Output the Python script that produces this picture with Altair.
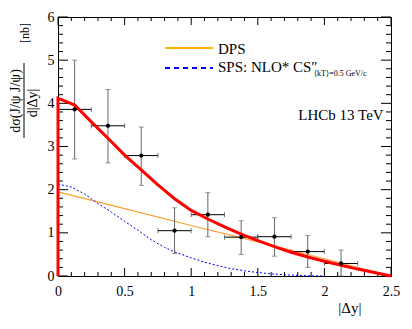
import altair as alt
import pandas as pd

# ---- data ----
x_bins = [0.125, 0.375, 0.625, 0.875, 1.125, 1.375, 1.625, 1.875, 2.125]
x_half = [0.125, 0.125, 0.125, 0.125, 0.125, 0.125, 0.125, 0.125, 0.125]
y_data = [3.86, 3.48, 2.79, 1.05, 1.42, 0.90, 0.91, 0.565, 0.29]
y_up = [5.00, 4.32, 3.45, 1.58, 1.93, 1.28, 1.35, 0.94, 0.60]
y_dn = [2.71, 2.62, 2.10, 0.52, 0.91, 0.50, 0.46, 0.20, 0.00]

red_x = [0.0, 0.0, 0.125, 0.25, 0.375, 0.5, 0.625, 0.75, 0.875, 1.0, 1.125, 1.25,
         1.375, 1.5, 1.625, 1.75, 1.875, 2.0, 2.125, 2.25, 2.375, 2.5]
red_y = [0.0, 4.12, 3.96, 3.57, 3.19, 2.80, 2.46, 2.11, 1.79, 1.52, 1.32, 1.14,
         0.97, 0.82, 0.68, 0.55, 0.44, 0.34, 0.25, 0.16, 0.08, 0.0]

dps_x = [0.0, 0.5, 1.0, 1.5, 2.0, 2.5]
dps_y = [1.95, 1.56, 1.17, 0.79, 0.40, 0.0]

sps_x = [0.0, 0.1, 0.2, 0.3, 0.4, 0.5, 0.6, 0.7, 0.8, 0.9, 1.0, 1.1, 1.2, 1.3,
         1.4, 1.5, 1.6, 1.7, 1.8, 1.9, 2.0]
sps_y = [2.13, 2.06, 1.90, 1.68, 1.48, 1.27, 1.06, 0.84, 0.66, 0.53, 0.42, 0.32,
         0.24, 0.17, 0.12, 0.08, 0.05, 0.03, 0.015, 0.005, 0.0]

x_major = [0, 0.5, 1, 1.5, 2, 2.5]
x_minor = [round(i * 0.1, 2) for i in range(26) if i % 5 != 0]
y_major = [0, 1, 2, 3, 4, 5, 6]
y_minor = [round(i * 0.2, 2) for i in range(31) if i % 5 != 0]

W, H = 333, 259
FONT = "Liberation Serif, Times New Roman, DejaVu Serif, serif"

xs = alt.Scale(domain=[0, 2.5], nice=False, zero=False)
ys = alt.Scale(domain=[0, 6], nice=False, zero=False)

X_AXIS = alt.Axis(
    values=x_major, tickSize=0, domain=False, grid=False, labelFont=FONT,
    labelFontSize=14, labelColor="black", labelPadding=8, labelFlush=False,
    labelExpr="format(datum.value, '~g')",
    title="|Δy|", titleFont=FONT, titleFontSize=15, titleFontWeight="normal",
    titleColor="black", titleAnchor="end", titleAlign="right",
    titleX=303, titleY=36, titleBaseline="alphabetic")
Y_AXIS = alt.Axis(
    values=y_major, tickSize=0, domain=False, grid=False, labelFont=FONT,
    labelFontSize=14, labelColor="black", labelPadding=4, labelFlush=False,
    labelBaseline="middle", title=None)

pts = pd.DataFrame({
    "x": x_bins, "y": y_data, "up": y_up, "dn": y_dn,
    "xl": [a - b for a, b in zip(x_bins, x_half)],
    "xh": [a + b for a, b in zip(x_bins, x_half)],
})


def xq(f):
    return alt.X(f, type="quantitative", scale=xs, axis=X_AXIS, title="|Δy|")


def yq(f):
    return alt.Y(f, type="quantitative", scale=ys, axis=Y_AXIS, title=None)


# ticks (inward, on all four sides)
xmaj = pd.DataFrame({"t": x_major})
xmin = pd.DataFrame({"t": x_minor})
ymaj = pd.DataFrame({"t": y_major})
ymin = pd.DataFrame({"t": y_minor})
tk = dict(color="black", strokeWidth=1)
ticks = [
    alt.Chart(xmaj).mark_rule(**tk).encode(x=xq("t"), y=alt.value(H), y2=alt.value(H - 8)),
    alt.Chart(xmaj).mark_rule(**tk).encode(x=xq("t"), y=alt.value(0), y2=alt.value(8)),
    alt.Chart(xmin).mark_rule(**tk).encode(x=xq("t"), y=alt.value(H), y2=alt.value(H - 4)),
    alt.Chart(xmin).mark_rule(**tk).encode(x=xq("t"), y=alt.value(0), y2=alt.value(4)),
    alt.Chart(ymaj).mark_rule(**tk).encode(y=yq("t"), x=alt.value(0), x2=alt.value(10)),
    alt.Chart(ymaj).mark_rule(**tk).encode(y=yq("t"), x=alt.value(W), x2=alt.value(W - 10)),
    alt.Chart(ymin).mark_rule(**tk).encode(y=yq("t"), x=alt.value(0), x2=alt.value(5)),
    alt.Chart(ymin).mark_rule(**tk).encode(y=yq("t"), x=alt.value(W), x2=alt.value(W - 5)),
]

dps = alt.Chart(pd.DataFrame({"x": dps_x, "y": dps_y})).mark_line(
    color="#ffa030", strokeWidth=1.2).encode(x=xq("x"), y=yq("y"))
sps = alt.Chart(pd.DataFrame({"x": sps_x, "y": sps_y})).mark_line(
    color="#0000ff", strokeWidth=1, strokeDash=[2, 2]).encode(x=xq("x"), y=yq("y"))
red = alt.Chart(pd.DataFrame({"x": red_x, "y": red_y, "i": list(range(len(red_x)))})).mark_line(
    color="#ff0000", strokeWidth=3).encode(x=xq("x"), y=yq("y"), order="i:Q")

vbar = alt.Chart(pts).mark_rule(color="#666666", strokeWidth=1).encode(
    x=xq("x"), y=yq("dn"), y2="up:Q")
hbar = alt.Chart(pts).mark_rule(color="black", strokeWidth=1).encode(
    x=xq("xl"), x2="xh:Q", y=yq("y"))
capu = alt.Chart(pts).mark_tick(orient="horizontal", size=5, thickness=1, color="#666666").encode(
    x=xq("x"), y=yq("up"))
capd = alt.Chart(pts).mark_tick(orient="horizontal", size=5, thickness=1, color="#666666").encode(
    x=xq("x"), y=yq("dn"))
capl = alt.Chart(pts).mark_tick(orient="vertical", size=5, thickness=1, color="#444444").encode(
    x=xq("xl"), y=yq("y"))
caph = alt.Chart(pts).mark_tick(orient="vertical", size=5, thickness=1, color="#444444").encode(
    x=xq("xh"), y=yq("y"))
dots = alt.Chart(pts).mark_point(filled=True, size=18, color="black", opacity=1).encode(
    x=xq("x"), y=yq("y"))

one = pd.DataFrame({"a": [0]})

# legend
leg = [
    alt.Chart(one).mark_rule(color="#ffb000", strokeWidth=2).encode(
        x=alt.value(107), x2=alt.value(155), y=alt.value(31)),
    alt.Chart(one).mark_rule(color="#0000ff", strokeWidth=2, strokeDash=[5, 4]).encode(
        x=alt.value(107), x2=alt.value(155), y=alt.value(51)),
    alt.Chart(one).mark_text(text="DPS", font=FONT, fontSize=15, align="left",
                             baseline="alphabetic", color="black").encode(
        x=alt.value(160), y=alt.value(37)),
    alt.Chart(one).mark_text(text="SPS: NLO* CS″", font=FONT, fontSize=15, align="left",
                             baseline="alphabetic", color="black").encode(
        x=alt.value(160), y=alt.value(55)),
    alt.Chart(one).mark_text(text="⟨kT⟩=0.5 GeV/c", font=FONT, fontSize=8, align="left",
                             baseline="alphabetic", color="black").encode(
        x=alt.value(256), y=alt.value(59)),
    alt.Chart(one).mark_text(text="LHCb 13 TeV", font=FONT, fontSize=15, align="center",
                             baseline="alphabetic", color="black").encode(
        x=alt.value(283), y=alt.value(103)),
]

# y axis title as a fraction
ytitle = [
    alt.Chart(one).mark_text(text="dσ(J/ψ J/ψ)", font=FONT, fontSize=14, angle=270,
                             align="center", baseline="middle", color="black").encode(
        x=alt.value(-42), y=alt.value(84)),
    alt.Chart(one).mark_rule(color="black", strokeWidth=1).encode(
        x=alt.value(-34), y=alt.value(46), y2=alt.value(121)),
    alt.Chart(one).mark_text(text="d|Δy|", font=FONT, fontSize=14, angle=270,
                             align="center", baseline="middle", color="black").encode(
        x=alt.value(-25), y=alt.value(86)),
    alt.Chart(one).mark_text(text="[nb]", font=FONT, fontSize=12, angle=270,
                             align="center", baseline="middle", color="black").encode(
        x=alt.value(-33), y=alt.value(16)),
]

chart = alt.layer(
    *ticks, dps, sps, vbar, hbar, capu, capd, capl, caph, red, dots,
    *leg, *ytitle
).properties(
    width=W, height=H,
    autosize=alt.AutoSizeParams(type="none"),
    padding={"left": 50, "top": 9, "right": 13, "bottom": 45},
    background="white",
).configure_view(stroke="black", strokeWidth=1)

chart.save("out.html", embed_options={"renderer": "svg", "actions": False})
